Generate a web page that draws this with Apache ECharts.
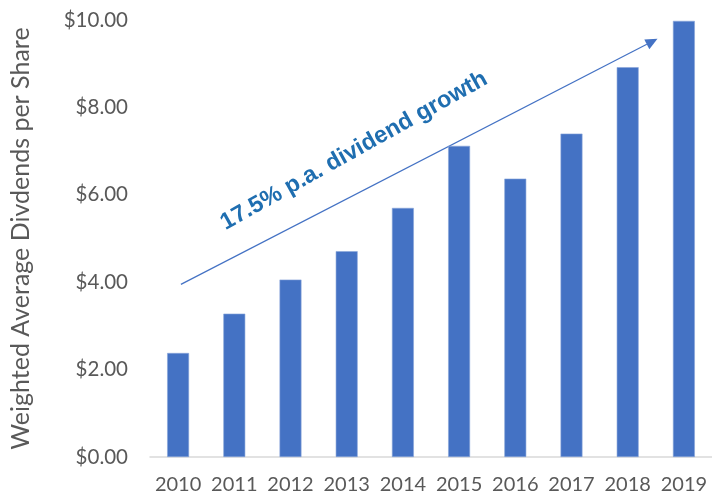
<!DOCTYPE html>
<html><head><meta charset="utf-8">
<script src="https://cdn.jsdelivr.net/npm/echarts@6/dist/echarts.min.js"></script>
<style>html,body{margin:0;padding:0;background:#fff}#c{width:712px;height:495px}</style>
</head><body><div id="c"></div>
<script>
const categories = ['2010','2011','2012','2013','2014','2015','2016','2017','2018','2019'];
const dividends = [2.38, 3.28, 4.06, 4.71, 5.70, 7.12, 6.37, 7.40, 8.92, 9.98];
const yTicks = [0, 2, 4, 6, 8, 10];
const axisTitle = 'Weighted Average Divdends per Share';
const annotation = '17.5% p.a. dividend growth';
// arrow endpoints in data space: [category index, value]
const arrowStart = [0.05, 3.95];
const arrowEnd = [8.53, 9.57];

const FONT = 'Lato, "Open Sans", sans-serif';
const chart = echarts.init(document.getElementById('c'), null, {renderer:'canvas'});
chart.setOption({
  animation: false,
  grid: {left: 148.5, right: -6.5, top: 20, bottom: 37, containLabel: false},
  xAxis: {
    type: 'category', data: categories,
    axisLine: {show: true, lineStyle: {color: '#D9D9D9', width: 1.5}},
    axisTick: {show: false},
    axisLabel: {color: '#595959', fontSize: 20, fontFamily: FONT, margin: 18, interval: 0, hideOverlap: false}
  },
  yAxis: {
    type: 'value', min: yTicks[0], max: yTicks[yTicks.length-1], interval: 2,
    name: axisTitle, nameLocation: 'middle', nameRotate: 90, nameGap: 117,
    nameTextStyle: {color: '#595959', fontSize: 25, fontFamily: FONT},
    axisLine: {show: false}, axisTick: {show: false}, splitLine: {show: false},
    axisLabel: {color: '#595959', fontSize: 20.5, fontFamily: FONT, margin: 22,
      formatter: v => '$' + v.toFixed(2)}
  },
  series: [{
    type: 'bar', data: dividends, barWidth: '39%',
    itemStyle: {color: '#4472C4', borderColor: '#8aa6da', borderWidth: 0.6}
  }]
});

function toPx(pt) {
  const p0 = chart.convertToPixel({gridIndex: 0}, [0, pt[1]]);
  const p1 = chart.convertToPixel({gridIndex: 0}, [1, pt[1]]);
  return [p0[0] + pt[0] * (p1[0] - p0[0]), p0[1]];
}
const a = toPx(arrowStart), b = toPx(arrowEnd);
const ang = Math.atan2(b[1] - a[1], b[0] - a[0]);
const hl = 12, hw = 5.5;
const ux = Math.cos(ang), uy = Math.sin(ang);
const base = [b[0] - ux * hl, b[1] - uy * hl];
const head = [b, [base[0] - uy * hw, base[1] + ux * hw], [base[0] + uy * hw, base[1] - ux * hw]];
chart.setOption({
  graphic: [
    {type: 'line', shape: {x1: a[0], y1: a[1], x2: base[0], y2: base[1]},
     style: {stroke: '#4472C4', lineWidth: 1.2}},
    {type: 'polygon', shape: {points: head}, style: {fill: '#4472C4'}},
    {type: 'text', x: 354, y: 151, rotation: 29.2 * Math.PI / 180,
     style: {text: annotation, fill: '#1F6EB0', font: 'bold 23.5px "Liberation Sans", Arial, sans-serif',
       align: 'center', verticalAlign: 'middle'}}
  ]
});
</script></body></html>
